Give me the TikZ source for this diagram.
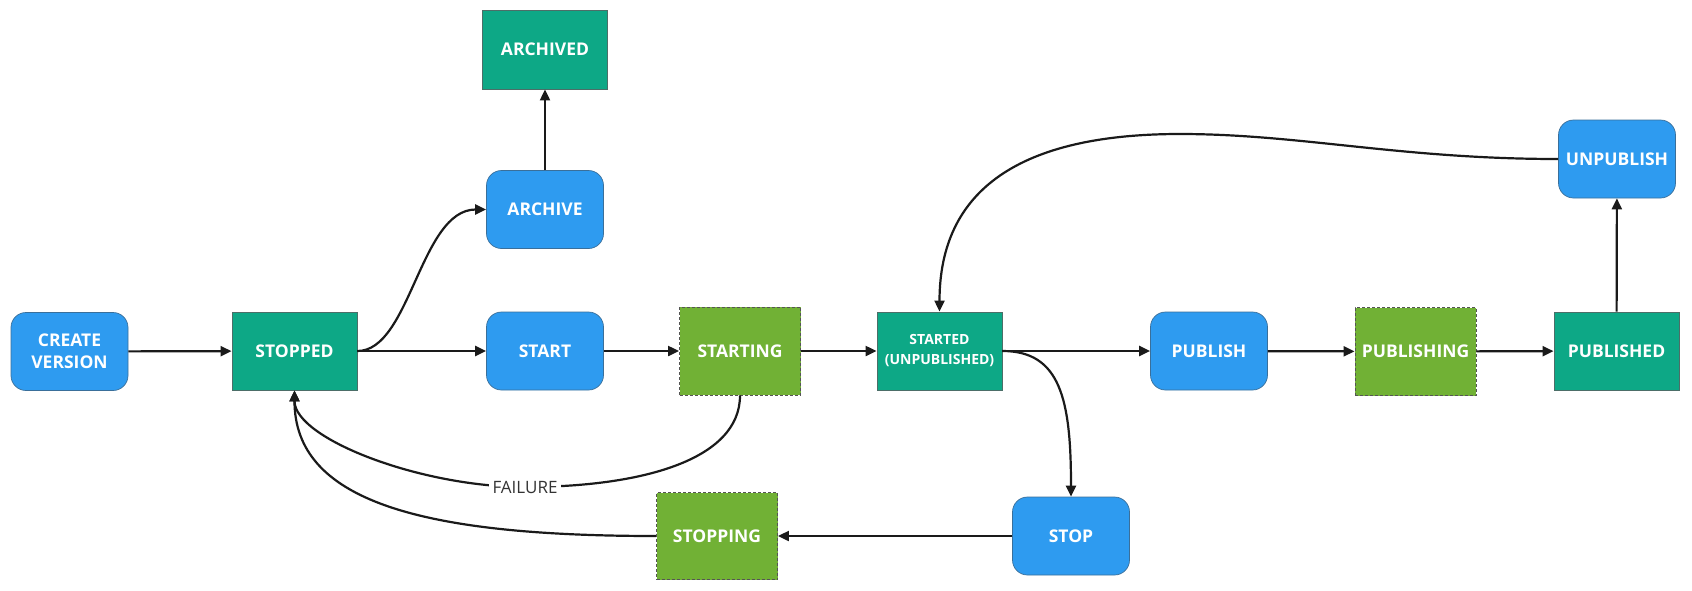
\documentclass[tikz,border=0pt]{standalone}
\usepackage{fontspec}
\setmainfont{Open Sans}
\usetikzlibrary{arrows.meta}
\definecolor{actblue}{HTML}{2E9BF0}
\definecolor{actborder}{HTML}{3A6F9A}
\definecolor{stteal}{HTML}{0DA886}
\definecolor{stborder}{HTML}{4C6E68}
\definecolor{trlime}{HTML}{71B135}
\definecolor{trborder}{HTML}{555555}
\definecolor{edgecol}{HTML}{1A1A1A}
\definecolor{labcol}{HTML}{333333}
\tikzset{
  basebox/.style={minimum width=117pt, minimum height=78pt, inner sep=0pt, align=center,
    text=white, font=\bfseries\fontsize{17.5}{22}\selectfont},
  actionbox/.style={basebox, fill=actblue, draw=actborder, rounded corners=15pt, line width=0.7pt},
  statebox/.style={basebox, fill=stteal, draw=stborder, minimum width=125pt, line width=0.9pt},
  transbox/.style={basebox, fill=trlime, draw=trborder, dash pattern=on 3pt off 2pt,
    minimum width=121pt, minimum height=88pt, line width=0.9pt},
  conn/.style={-{Triangle[length=11pt,width=10pt]}, line width=2.2pt, draw=edgecol},
  edgelabel/.style={fill=white, text=labcol, inner sep=4pt, font=\fontsize{17}{20}\selectfont}
}
\begin{document}
\begin{tikzpicture}[x=1pt,y=-1pt]
\useasboundingbox (0,0) rectangle (1692,590);
\node[actionbox] (cv) at (69.5,351.5) {CREATE\\VERSION};
\node[statebox] (stopped) at (294.5,351) {STOPPED};
\node[statebox, minimum height=79pt] (archived) at (545,49.5) {ARCHIVED};
\node[actionbox] (archive) at (545,209.5) {ARCHIVE};
\node[actionbox] (start) at (545,351) {START};
\node[transbox] (starting) at (740,351) {STARTING};
\node[statebox, font=\bfseries\fontsize{14}{20}\selectfont] (started) at (939.5,351) {STARTED\\(UNPUBLISHED)};
\node[actionbox] (publish) at (1209,351) {PUBLISH};
\node[transbox] (publishing) at (1415.5,351.5) {PUBLISHING};
\node[statebox] (published) at (1616.5,351) {PUBLISHED};
\node[actionbox] (unpublish) at (1617,159) {UNPUBLISH};
\node[actionbox] (stop) at (1071,536) {STOP};
\node[transbox, minimum height=87pt] (stopping) at (717,536) {STOPPING};
\coordinate (failpt) at (525,487);
\coordinate (peak) at (1180,134);

\draw[conn] (cv) -- (stopped);
\draw[conn] (stopped.east) .. controls +(53,0) and +(-66,0) .. (archive.west);
\draw[conn] (archive) -- (archived);
\draw[conn] (stopped) -- (start);
\draw[conn] (start) -- (starting);
\draw[conn] (starting) -- (started);
\draw[conn] (started) -- (publish);
\draw[conn] (publish) -- (publishing);
\draw[conn] (publishing) -- (published);
\draw[conn] (published) -- (unpublish);
\draw[conn] (started.east) .. controls +(58,0) and +(0,-97) .. (stop.north);
\draw[conn] (stop) -- (stopping);
\draw[conn] (stopping.west) .. controls +(-237,0) and +(0,110) .. (stopped.south);
\draw[conn] (starting.south) .. controls +(0,65) and +(115,0) .. (failpt)
  .. controls +(-105,0) and +(0,48) .. (stopped.south);
\node[edgelabel] (faillabel) at (failpt) {FAILURE};
\draw[conn] (unpublish.west) .. controls +(-158,0) and +(120,0) .. (peak)
  .. controls +(-160,0) and +(0,-122) .. (started.north);
\end{tikzpicture}
\end{document}
